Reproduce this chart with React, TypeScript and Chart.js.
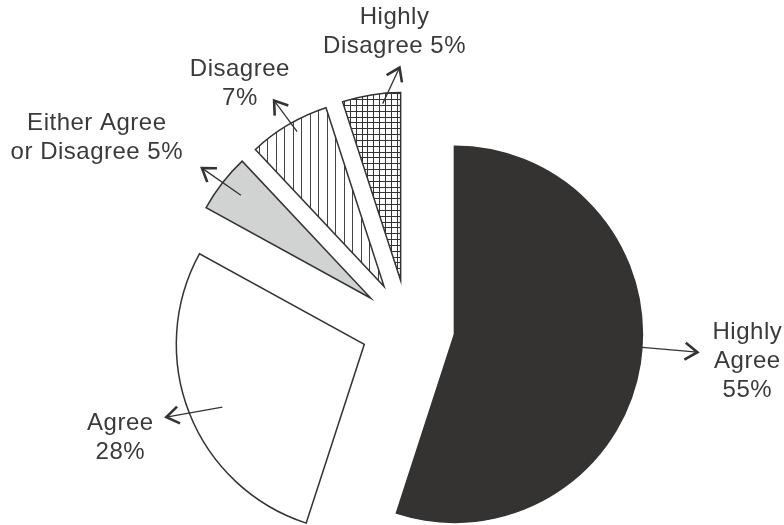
import React, { useEffect, useRef } from 'react';
import { Chart, registerables } from 'chart.js';

Chart.register(...registerables);

// ---- data ----
const categories = ['Highly Agree', 'Agree', 'Either Agree or Disagree', 'Disagree', 'Highly Disagree'];
const percentages = [55, 28, 5, 7, 5];
const labelLines = [['Highly', 'Agree'], ['Agree'], ['Either Agree', 'or Disagree'], ['Disagree'], ['Highly', 'Disagree']];
const percentOnOwnLine = [true, true, false, true, false];

// ---- layout (polar, relative to each slice apex: [deg clockwise from 12 o'clock, fraction of radius]) ----
const arrowFrom = [[93.9, 0.94], [246.1, 0.826], [308.4, 0.882], [330.7, 0.945], [354.2, 0.946]];
const arrowTo = [[94.2, 1.296], [249.8, 1.122], [307.6, 1.134], [329.4, 1.149], [359.7, 1.133]];
const textAt = [[95.3, 1.565], [249.1, 1.389], [300.4, 1.69], [324.6, 1.324], [358.6, 1.325]];

const EXPLODE = 47;
const RADIUS = 188;
const INK = '#333333';

function makePattern(w: number, h: number, draw: (g: CanvasRenderingContext2D) => void) {
  const c = document.createElement('canvas');
  c.width = w;
  c.height = h;
  const g = c.getContext('2d')!;
  g.fillStyle = '#ffffff';
  g.fillRect(0, 0, w, h);
  draw(g);
  return g.createPattern(c, 'repeat')!;
}

const explodePlugin = {
  id: 'explodeSlices',
  afterUpdate(chart: any) {
    const meta = chart.getDatasetMeta(0);
    meta.data.forEach((arc: any) => {
      const mid = (arc.startAngle + arc.endAngle) / 2;
      arc.x += Math.cos(mid) * EXPLODE;
      arc.y += Math.sin(mid) * EXPLODE;
    });
  },
};

const calloutPlugin = {
  id: 'callouts',
  afterDatasetsDraw(chart: any) {
    const ctx: CanvasRenderingContext2D = chart.ctx;
    const meta = chart.getDatasetMeta(0);
    meta.data.forEach((arc: any, i: number) => {
      const r = arc.outerRadius;
      const pt = (p: number[]) => {
        const a = (p[0] * Math.PI) / 180;
        return [arc.x + Math.sin(a) * p[1] * r, arc.y - Math.cos(a) * p[1] * r];
      };
      const [x0, y0] = pt(arrowFrom[i]);
      const [x1, y1] = pt(arrowTo[i]);
      ctx.save();
      ctx.strokeStyle = INK;
      ctx.lineWidth = 1.3;
      ctx.beginPath();
      ctx.moveTo(x0, y0);
      ctx.lineTo(x1, y1);
      ctx.stroke();
      const ang = Math.atan2(y1 - y0, x1 - x0);
      const head = 15;
      const spread = 0.6;
      ctx.lineWidth = 2.6;
      ctx.lineJoin = 'miter';
      ctx.beginPath();
      ctx.moveTo(x1 - head * Math.cos(ang - spread), y1 - head * Math.sin(ang - spread));
      ctx.lineTo(x1, y1);
      ctx.lineTo(x1 - head * Math.cos(ang + spread), y1 - head * Math.sin(ang + spread));
      ctx.stroke();

      const lines = labelLines[i].slice();
      const pct = percentages[i] + '%';
      if (percentOnOwnLine[i]) lines.push(pct);
      else lines[lines.length - 1] = lines[lines.length - 1] + ' ' + pct;
      const [tx, ty] = pt(textAt[i]);
      ctx.font = '24px "Liberation Sans", Arial, sans-serif';
      (ctx as any).letterSpacing = '0.5px';
      ctx.textAlign = 'center';
      ctx.textBaseline = 'middle';
      ctx.fillStyle = '#3a3a3a';
      const lh = 29;
      lines.forEach((ln, k) => {
        ctx.fillText(ln, tx, ty + (k - (lines.length - 1) / 2) * lh);
      });
      ctx.restore();
    });
  },
};

export default function App() {
  const ref = useRef<HTMLCanvasElement>(null);
  useEffect(() => {
    const vLines = makePattern(17, 4, (g) => {
      g.fillStyle = '#444444';
      g.fillRect(4, 0, 1, 4);
      g.fillRect(12, 0, 1, 4);
    });
    const grid = makePattern(35, 35, (g) => {
      g.fillStyle = '#333333';
      [0, 6, 12, 17, 23, 29].forEach((p) => {
        g.fillRect(p, 0, 1, 35);
        g.fillRect(0, p, 35, 1);
      });
    });
    const chart = new Chart(ref.current!, {
      type: 'pie',
      data: {
        labels: categories,
        datasets: [
          {
            data: percentages,
            backgroundColor: ['#353331', '#ffffff', '#d1d3d2', vLines as any, grid as any],
            borderColor: INK,
            borderWidth: 1.5,
            borderJoinStyle: 'miter',
            clip: false as any,
          } as any,
        ],
      },
      options: {
        animation: false,
        responsive: true,
        maintainAspectRatio: false,
        events: [],
        radius: RADIUS,
        layout: { padding: { left: 32, right: 0, top: 129, bottom: 0 } },
        plugins: {
          legend: { display: false },
          tooltip: { enabled: false },
        },
      } as any,
      plugins: [explodePlugin, calloutPlugin],
    });
    return () => chart.destroy();
  }, []);
  return (
    <div style={{ position: 'fixed', left: 0, top: 0, width: 784, height: 525, background: '#fff' }}>
      <canvas ref={ref} />
    </div>
  );
}
